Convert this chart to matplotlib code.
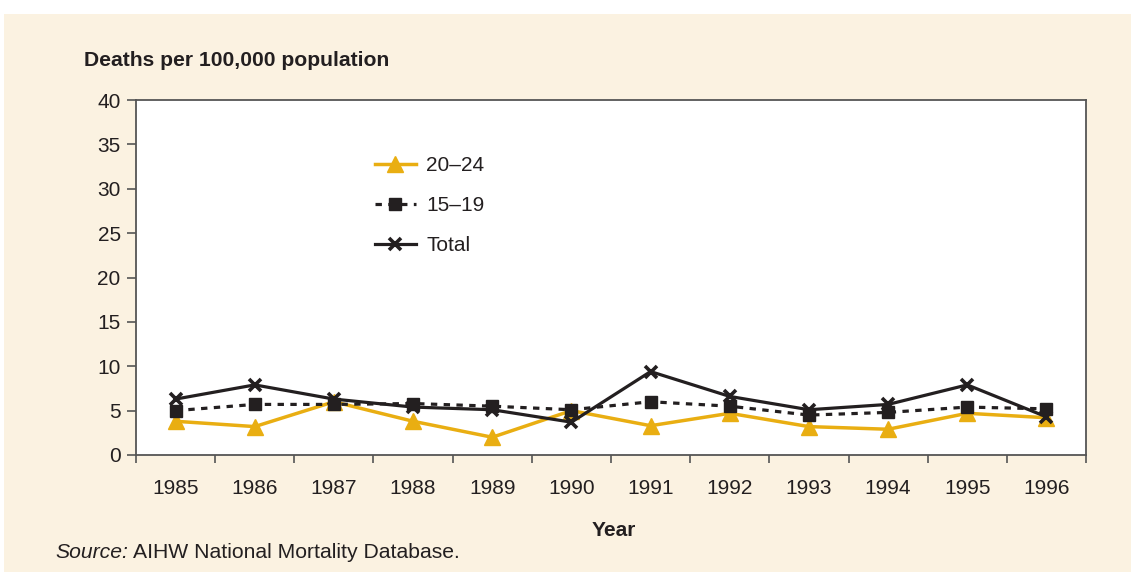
import matplotlib.pyplot as plt
import matplotlib.patches as patches
from matplotlib.ticker import FixedLocator, NullFormatter

plt.rcParams['font.family'] = ['Liberation Sans', 'DejaVu Sans']

# -----------------------------
# Data
# -----------------------------
years = ['1985', '1986', '1987', '1988', '1989', '1990',
         '1991', '1992', '1993', '1994', '1995', '1996']
age_20_24 = [3.8, 3.2, 6.0, 3.8, 2.0, 5.0, 3.3, 4.7, 3.2, 2.9, 4.7, 4.2]
age_15_19 = [5.0, 5.7, 5.7, 5.8, 5.5, 5.1, 6.0, 5.5, 4.5, 4.8, 5.4, 5.2]
total = [6.3, 7.9, 6.3, 5.4, 5.1, 3.7, 9.4, 6.6, 5.1, 5.7, 7.9, 4.3]

gold = '#E9AE12'
dark = '#231F20'
beige = '#FBF2E1'

# -----------------------------
# Figure
# -----------------------------
fig = plt.figure(figsize=(11.31, 5.72), dpi=100)
fig.patch.set_facecolor('white')
bg = patches.Rectangle((4 / 1131, 0), 1, 1 - 14 / 572,
                       transform=fig.transFigure,
                       facecolor=beige, edgecolor='none', zorder=-10)
fig.add_artist(bg)

ax = fig.add_axes([136 / 1131, 117 / 572, 950 / 1131, 355 / 572])
ax.set_facecolor('white')

x = list(range(len(years)))
ax.plot(x, age_20_24, color=gold, lw=2.5, marker='^', ms=12,
        label='20\u201324', zorder=3)
ax.plot(x, age_15_19, color=dark, lw=2.3, ls=(0, (2.0, 2.0)), marker='s',
        ms=8, label='15\u201319', zorder=4)
ax.plot(x, total, color=dark, lw=2.3, marker='x', ms=9, mew=2.6,
        label='Total', zorder=5)

ax.set_xlim(-0.5, len(years) - 0.5)
ax.set_ylim(0, 40)
ax.set_yticks(range(0, 41, 5))

# category boundaries as ticks, labels centred between them
ax.xaxis.set_major_locator(FixedLocator([i - 0.5 for i in range(len(years) + 1)]))
ax.xaxis.set_major_formatter(NullFormatter())
ax.xaxis.set_minor_locator(FixedLocator(x))
ax.set_xticklabels(years, minor=True)
ax.tick_params(axis='x', which='minor', length=0, pad=17.5,
               labelsize=15, labelcolor=dark)
ax.tick_params(axis='x', which='major', direction='out', length=6,
               width=1.2, color='#555555')
ax.tick_params(axis='y', direction='out', length=6.5, width=1.2,
               color='#555555', labelsize=15, labelcolor=dark, pad=4.5)

for s in ax.spines.values():
    s.set_color('#555555')
    s.set_linewidth(1.3)

leg = ax.legend(loc='upper left', bbox_to_anchor=(0.243, 0.866), frameon=False,
                fontsize=15, handlelength=1.95, labelspacing=1.02,
                handletextpad=0.5, borderaxespad=0)
for t in leg.get_texts():
    t.set_color(dark)

fig.text(84 / 1131, 1 - 60 / 572, 'Deaths per 100,000 population',
         fontsize=15.2, fontweight='bold', color=dark, va='center', ha='left')
fig.text(614 / 1131, 1 - 530 / 572, 'Year', fontsize=15, fontweight='bold',
         color=dark, va='center', ha='center')
fig.text(55 / 1131, 1 - 553 / 572, 'Source:', fontsize=15.2, style='italic',
         color=dark, va='center', ha='left')
fig.text(133 / 1131, 1 - 553 / 572, 'AIHW National Mortality Database.',
         fontsize=15.2, color=dark, va='center', ha='left')

fig.savefig('out.png', dpi=100, facecolor=fig.get_facecolor())
